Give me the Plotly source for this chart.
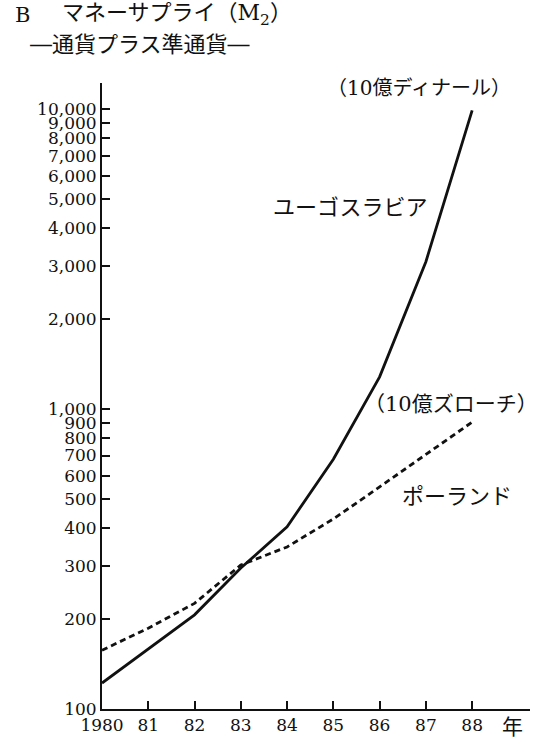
import plotly.graph_objects as go

years = [1980, 1981, 1982, 1983, 1984, 1985, 1986, 1987, 1988]
yugoslavia = [122, 158, 206, 295, 405, 680, 1280, 3100, 9900]
poland = [157, 186, 225, 302, 347, 430, 550, 705, 905]

x_tickvals = [1980, 1981, 1982, 1983, 1984, 1985, 1986, 1987, 1988]
x_ticktext = ["1980", "81", "82", "83", "84", "85", "86", "87", "88"]
y_tickvals = [100, 200, 300, 400, 500, 600, 700, 800, 900,
              1000, 2000, 3000, 4000, 5000, 6000, 7000, 8000, 9000, 10000]
y_ticktext = ["100", "200", "300", "400", "500", "600", "700", "800", "900",
              "1,000", "2,000", "3,000", "4,000", "5,000", "6,000", "7,000",
              "8,000", "9,000", "10,000"]

FONT = "DejaVu Serif, Noto Sans CJK JP"
INK = "#111111"

fig = go.Figure()
fig.add_trace(go.Scatter(x=years, y=yugoslavia, mode="lines",
                         line=dict(color=INK, width=2.8), name="ユーゴスラビア",
                         showlegend=False, hoverinfo="skip"))
fig.add_trace(go.Scatter(x=years, y=poland, mode="lines",
                         line=dict(color=INK, width=2.8, dash="6px,4px"),
                         name="ポーランド", showlegend=False, hoverinfo="skip"))

W, H = 546, 741
# plot area in page pixels: left 102, right 530, top 83, bottom 709
L, R, T, B = 102, W - 530, 83, H - 709

fig.update_layout(
    width=W, height=H,
    margin=dict(l=L, r=R, t=T, b=B, autoexpand=False),
    paper_bgcolor="white", plot_bgcolor="white",
    font=dict(family=FONT, color=INK, size=17),
    xaxis=dict(range=[1980, 1989.25], tickvals=x_tickvals, ticktext=x_ticktext,
               showline=True, linecolor=INK, linewidth=2, ticks="inside",
               ticklen=8, tickwidth=1.6, tickcolor=INK, showgrid=False,
               zeroline=False, automargin=False,
               tickfont=dict(size=17, family=FONT)),
    yaxis=dict(type="log", range=[2, 4.087], tickvals=y_tickvals,
               ticktext=y_ticktext, showline=True, linecolor=INK, linewidth=2,
               ticks="inside", ticklen=8, tickwidth=1.6, tickcolor=INK,
               showgrid=False, zeroline=False, automargin=False,
               tickfont=dict(size=17, family=FONT)),
)

pw = W - L - R
ph = H - T - B


def px2paper(px, py):
    return (px - L) / pw, (H - B - py) / ph


annots = []
bx, by = px2paper(13, 15)
annots.append(dict(text="B", x=bx, y=by, xref="paper", yref="paper",
                   xanchor="left", yanchor="middle", showarrow=False,
                   font=dict(size=21, family=FONT, color=INK)))
tx, ty = px2paper(60, 15)
annots.append(dict(text="マネーサプライ（M<sub>2</sub>）", x=tx, y=ty,
                   xref="paper", yref="paper", xanchor="left",
                   yanchor="middle", showarrow=False,
                   font=dict(size=22, family=FONT, color=INK)))
sx, sy = px2paper(28, 45)
annots.append(dict(text="―通貨プラス準通貨―", x=sx, y=sy, xref="paper",
                   yref="paper", xanchor="left", yanchor="middle",
                   showarrow=False, font=dict(size=22, family=FONT, color=INK)))
nx, ny = px2paper(512, 727)
annots.append(dict(text="年", x=nx, y=ny, xref="paper", yref="paper",
                   xanchor="center", yanchor="middle", showarrow=False,
                   font=dict(size=21, family=FONT, color=INK)))

# series labels in data coordinates (log axis -> log10 values)
annots.append(dict(text="（10億ディナール）", x=1986.85, y=4.07,
                   xanchor="center", yanchor="middle", showarrow=False,
                   font=dict(size=20, family=FONT, color=INK)))
annots.append(dict(text="ユーゴスラビア", x=1985.36, y=3.673,
                   xanchor="center", yanchor="middle", showarrow=False,
                   font=dict(size=22, family=FONT, color=INK)))
annots.append(dict(text="（10億ズローチ）", x=1987.55, y=3.017,
                   xanchor="center", yanchor="middle", showarrow=False,
                   font=dict(size=21, family=FONT, color=INK)))
annots.append(dict(text="ポーランド", x=1987.68, y=2.707,
                   xanchor="center", yanchor="middle", showarrow=False,
                   font=dict(size=22, family=FONT, color=INK)))

fig.update_layout(annotations=annots)
# remove the browser's default 8px body margin so the figure sits at (0, 0)
fig.write_html("out.html", config={"displayModeBar": False},
               post_script="document.body.style.margin='0px';")
